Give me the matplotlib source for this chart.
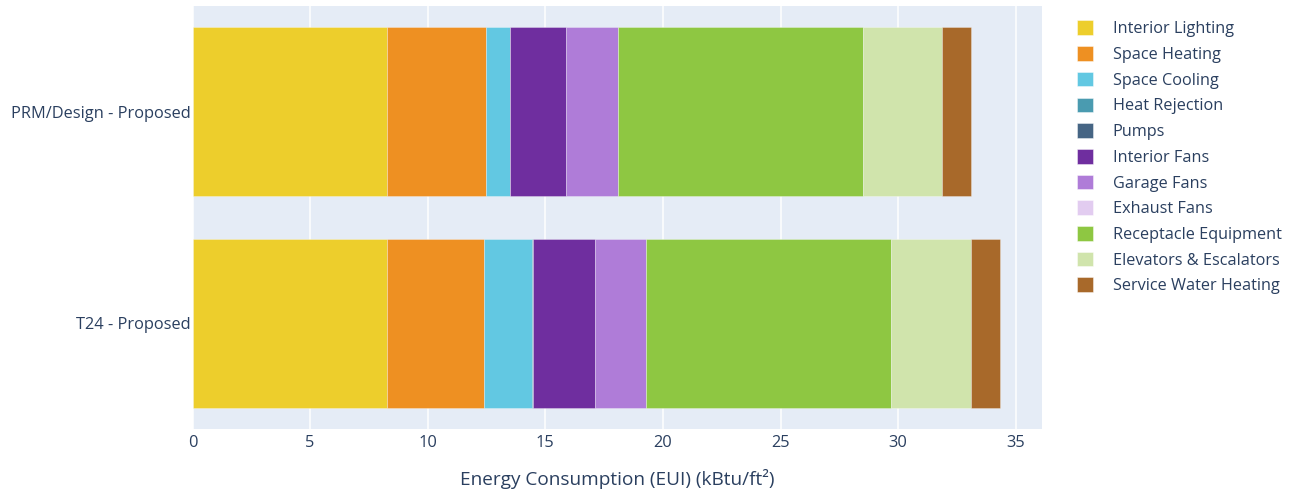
import matplotlib
matplotlib.use("Agg")
import matplotlib.pyplot as plt
from matplotlib.patches import Patch
import numpy as np

# EUI breakdown per end use, stacked horizontally for each run
runs = ["T24 - Proposed", "PRM/Design - Proposed"]
end_uses = ["Interior Lighting", "Space Heating", "Space Cooling", "Heat Rejection",
            "Pumps", "Interior Fans", "Garage Fans", "Exhaust Fans",
            "Receptacle Equipment", "Elevators & Escalators", "Service Water Heating"]
t24_eui = [8.26, 4.12, 2.05, 0.06, 0.0, 2.60, 2.19, 0.0, 10.43, 3.38, 1.24]
prm_eui = [8.26, 4.23, 0.99, 0.0, 0.0, 2.40, 2.19, 0.0, 10.42, 3.39, 1.23]
colors = ["#EDCE2C", "#EE9022", "#62C8E2", "#4A9BB0", "#466584", "#6F2E9F",
          "#AF7CD8", "#E2CCF0", "#8EC742", "#D0E4AC", "#A8692A"]

text_col = "#2a3f5f"
plt.rcParams["font.family"] = ["Open Sans", "DejaVu Sans"]

fig = plt.figure(figsize=(12.93, 4.91), dpi=100)
W, H = 1293, 491
ax = fig.add_axes([192.5 / W, 1 - 429 / H, (1041.7 - 192.5) / W, (429 - 6) / H])
ax.set_facecolor("#E5ECF6")

vals = np.array([t24_eui, prm_eui])
left = np.zeros(len(runs))
ypos = np.arange(len(runs))
for i, name in enumerate(end_uses):
    ax.barh(ypos, vals[:, i], left=left, height=0.8, color=colors[i],
            edgecolor=(1, 1, 1, 0.35), linewidth=0.6, zorder=3)
    left += vals[:, i]

ax.set_xlim(0, 36.1)
ax.set_ylim(-0.5, 1.5)
ax.set_xticks(np.arange(0, 36, 5))
ax.set_yticks(ypos)
ax.set_yticklabels(runs)
ax.grid(axis="x", color="white", linewidth=1.1, zorder=0)
ax.set_axisbelow(True)
for s in ax.spines.values():
    s.set_visible(False)
ax.tick_params(length=0, colors=text_col, labelsize=11.8)
ax.tick_params(axis="x", pad=4)
ax.tick_params(axis="y", pad=1)
ax.set_xlabel("Energy Consumption (EUI) (kBtu/ft²)", fontsize=13.7, color=text_col, labelpad=13)

handles = [Patch(facecolor=c, edgecolor=(1, 1, 1, 0.5), linewidth=0.6) for c in colors]
leg = fig.legend(handles, end_uses, loc="upper left", bbox_to_anchor=(1070 / W, 1 - 14 / H),
                 frameon=False, fontsize=11.7, handlelength=1.0, handleheight=1.0,
                 handletextpad=1.23, labelspacing=0.545, borderaxespad=0)
for t in leg.get_texts():
    t.set_color(text_col)

fig.savefig("out.png", dpi=100, facecolor="white")
